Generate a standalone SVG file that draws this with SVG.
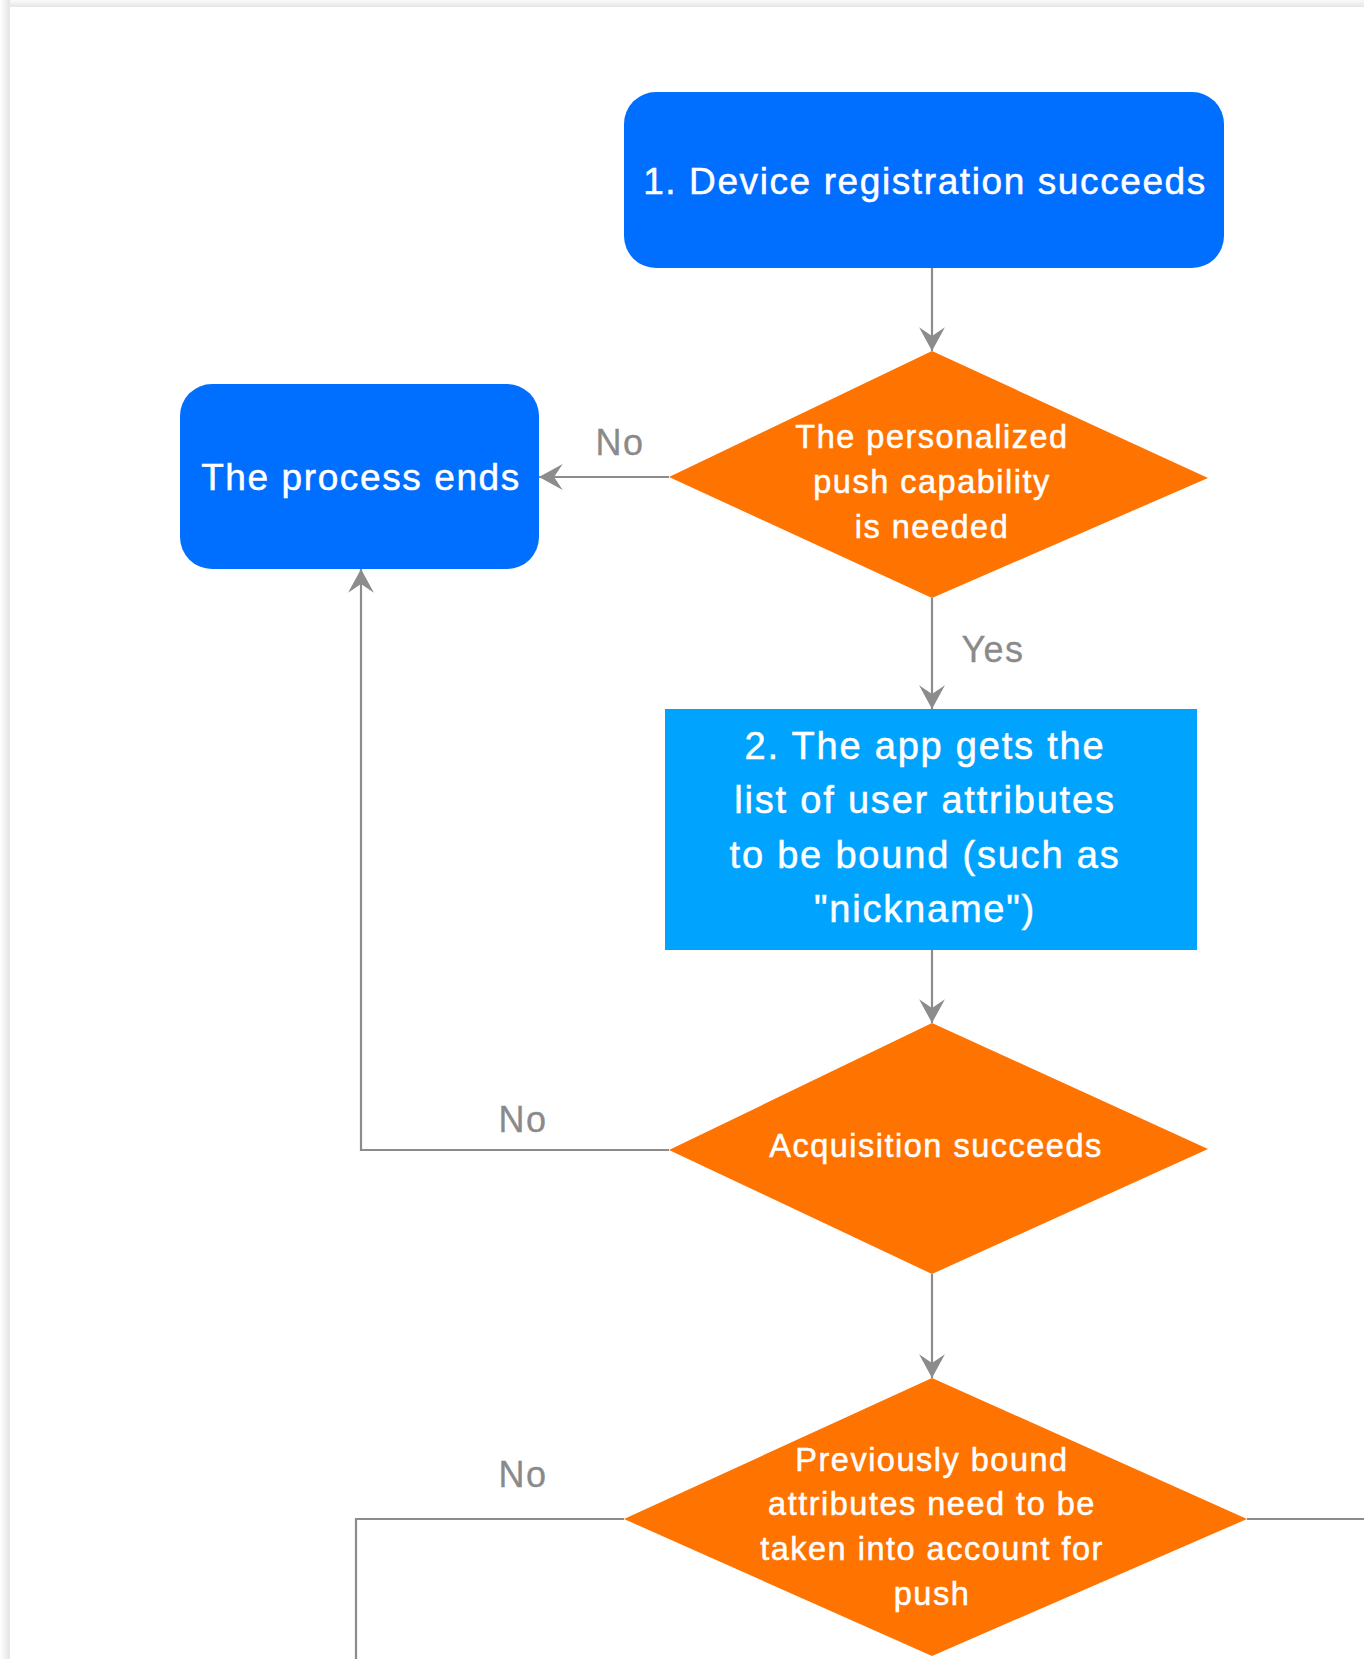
<svg xmlns="http://www.w3.org/2000/svg" width="1364" height="1659" viewBox="0 0 1364 1659">
<defs>
<linearGradient id="shL" x1="0" y1="0" x2="1" y2="0">
<stop offset="0" stop-color="#ffffff"/>
<stop offset="1" stop-color="#e4e4e4"/>
</linearGradient>
<linearGradient id="shT" x1="0" y1="0" x2="0" y2="1">
<stop offset="0" stop-color="#fafafa"/>
<stop offset="1" stop-color="#e6e6e6"/>
</linearGradient>
<marker id="arr" markerUnits="userSpaceOnUse" markerWidth="28" markerHeight="28" viewBox="-24 -13 26 26" refX="0" refY="0" orient="auto">
<path d="M0,0 L-22,-12 L-14,0 L-22,12 Z" fill="#8c8c8c"/>
</marker>
<style>
.bg{fill:#ffffff}
.term{fill:#006eff}
.proc{fill:#00a4ff}
.dec{fill:#ff7300}
.t{font-family:"Liberation Sans",Arial,sans-serif;fill:#ffffff;stroke:#ffffff;stroke-width:0.5;text-anchor:middle}
.big{font-size:37px;letter-spacing:1.6px}
.mid{font-size:38px;letter-spacing:1.8px}
.sm{font-size:32.5px;letter-spacing:1.5px}
.lbl{font-family:"Liberation Sans",Arial,sans-serif;fill:#8a8a8a;stroke:#8a8a8a;stroke-width:0.3;font-size:36px;letter-spacing:1.5px;text-anchor:middle}
.c{fill:none;stroke:#8c8c8c;stroke-width:2.2}
</style>
</defs>
<rect x="0" y="0" width="1364" height="1659" fill="#ffffff"/>
<rect x="0" y="0" width="1364" height="7" fill="url(#shT)"/>
<rect x="0" y="0" width="10" height="1659" fill="url(#shL)"/>
<rect class="bg" x="10" y="7" width="1354" height="1652"/>

<g id="connectors">
<line class="c" x1="932" y1="268" x2="932" y2="351" marker-end="url(#arr)"/>
<line class="c" x1="669" y1="477" x2="539" y2="477" marker-end="url(#arr)"/>
<line class="c" x1="932" y1="598" x2="932" y2="709" marker-end="url(#arr)"/>
<line class="c" x1="932" y1="950" x2="932" y2="1023" marker-end="url(#arr)"/>
<polyline class="c" points="669,1150 361,1150 361,569" marker-end="url(#arr)"/>
<line class="c" x1="932" y1="1274" x2="932" y2="1378" marker-end="url(#arr)"/>
<polyline class="c" points="624,1519 356,1519 356,1659"/>
<line class="c" x1="1247" y1="1519" x2="1364" y2="1519"/>
<text class="lbl" x="620" y="455">No</text>
<text class="lbl" x="993" y="662">Yes</text>
<text class="lbl" x="523" y="1132">No</text>
<text class="lbl" x="523" y="1487">No</text>
</g>

<g id="n1">
<rect class="term" x="624" y="92" width="600" height="176" rx="32" ry="32"/>
<text class="t big" x="925" y="194">1. Device registration succeeds</text>
</g>

<g id="d1">
<polygon class="dec" points="932,351 1208,478 932,598 669,477"/>
<text class="t sm" x="932" y="448">The personalized</text>
<text class="t sm" x="932" y="493">push capability</text>
<text class="t sm" x="932" y="538">is needed</text>
</g>

<g id="end">
<rect class="term" x="180" y="384" width="359" height="185" rx="32" ry="32"/>
<text class="t big" x="361" y="490">The process ends</text>
</g>

<g id="n2">
<rect class="proc" x="665" y="709" width="532" height="241"/>
<text class="t mid" x="925" y="759">2. The app gets the</text>
<text class="t mid" x="925" y="813">list of user attributes</text>
<text class="t mid" x="925" y="868">to be bound (such as</text>
<text class="t mid" x="925" y="922">"nickname")</text>
</g>

<g id="d2">
<polygon class="dec" points="932,1023 1208,1149 932,1274 669,1150"/>
<text class="t sm" x="936" y="1157">Acquisition succeeds</text>
</g>

<g id="d3">
<polygon class="dec" points="932,1378 1247,1519 932,1656 624,1519"/>
<text class="t sm" x="932" y="1471">Previously bound</text>
<text class="t sm" x="932" y="1515">attributes need to be</text>
<text class="t sm" x="932" y="1560">taken into account for</text>
<text class="t sm" x="932" y="1605">push</text>
</g>
</svg>
